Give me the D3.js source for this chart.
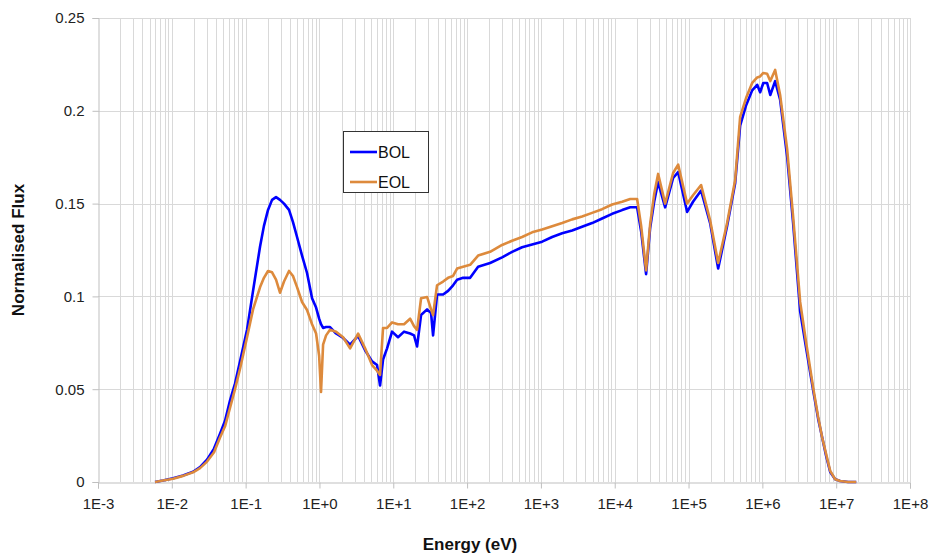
<!DOCTYPE html>
<html><head><meta charset="utf-8">
<script src="https://cdn.jsdelivr.net/npm/d3@7"></script>
<style>body{margin:0;background:#fff;}svg{display:block;font-family:"Liberation Sans",Arial,sans-serif;}</style>
</head><body>
<svg id="c" width="932" height="556"></svg>
<script>
const energy = [5.92e-3,7.6e-3,1.04e-2,1.42e-2,1.94e-2,2.41e-2,3.0e-2,3.73e-2,4.5e-2,5.26e-2,6.15e-2,7.18e-2,8.4e-2,0.1045,0.126,0.157,0.177,0.201,0.228,0.258,0.292,0.331,0.387,0.438,0.497,0.581,0.679,0.794,0.90,0.99,1.05,1.12,1.23,1.39,1.68,2.09,2.60,3.34,4.15,5.16,6.03,6.62,7.27,8.24,9.63,11.6,14.0,16.9,19.1,21.0,23.8,28.7,32.5,34.6,39.2,47.3,55.3,64.6,73.2,88.3,110,141,205,298,407,556,760,1040,1420,1940,2650,3610,4940,6740,9230,12600,16200,20100,22800,26600,30200,34200,38700,48200,61800,72300,95700,115000,148000,196000,252000,333000,428000,500000,603000,728000,851000,933000,1.03e6,1.16e6,1.28e6,1.49e6,1.74e6,2.17e6,2.61e6,3.25e6,3.92e6,4.87e6,5.70e6,6.46e6,7.31e6,8.30e6,9.69e6,1.13e7,1.45e7,1.87e7];
const bol = [0,0.0008,0.002,0.0035,0.0055,0.008,0.012,0.018,0.026,0.033,0.044,0.053,0.065,0.082,0.103,0.127,0.138,0.1466,0.152,0.1535,0.152,0.150,0.1466,0.140,0.132,0.122,0.1126,0.099,0.094,0.088,0.085,0.083,0.0835,0.0835,0.080,0.0776,0.074,0.0787,0.071,0.065,0.063,0.052,0.066,0.072,0.081,0.078,0.081,0.080,0.079,0.073,0.090,0.093,0.091,0.079,0.101,0.101,0.103,0.106,0.109,0.110,0.110,0.116,0.118,0.121,0.124,0.1265,0.128,0.1295,0.132,0.134,0.1355,0.1375,0.1395,0.142,0.1445,0.1465,0.148,0.148,0.135,0.112,0.137,0.151,0.1616,0.148,0.1638,0.167,0.1455,0.151,0.157,0.1395,0.115,0.138,0.161,0.192,0.203,0.211,0.214,0.210,0.215,0.215,0.2085,0.216,0.206,0.175,0.1395,0.092,0.072,0.0496,0.034,0.024,0.014,0.0054,0.0015,0.0005,0,0];
const eol = [0,0.0008,0.0018,0.0033,0.0052,0.0075,0.011,0.016,0.024,0.030,0.040,0.050,0.061,0.078,0.093,0.105,0.110,0.1137,0.113,0.109,0.102,0.108,0.1137,0.111,0.105,0.097,0.0927,0.085,0.080,0.068,0.0485,0.074,0.079,0.082,0.081,0.078,0.072,0.080,0.072,0.063,0.060,0.0577,0.083,0.083,0.086,0.085,0.085,0.088,0.084,0.082,0.099,0.0997,0.093,0.090,0.106,0.108,0.110,0.111,0.115,0.116,0.117,0.122,0.124,0.1277,0.130,0.132,0.1345,0.136,0.1378,0.1395,0.1415,0.143,0.145,0.147,0.1495,0.151,0.1525,0.1525,0.138,0.114,0.139,0.155,0.166,0.150,0.1665,0.171,0.150,0.1545,0.160,0.141,0.118,0.1395,0.1627,0.1967,0.207,0.215,0.218,0.2185,0.2204,0.220,0.216,0.222,0.2085,0.179,0.143,0.097,0.075,0.051,0.035,0.024,0.015,0.006,0.0015,0.0005,0,0];
const seriesNames = ["BOL","EOL"];
const seriesColors = ["#0000ff","#dd8a3c"];
const yTicks = [0,0.05,0.1,0.15,0.2,0.25];
const xTickExp = [-3,-2,-1,0,1,2,3,4,5,6,7,8];
const xTickLabels = ["1E-3","1E-2","1E-1","1E+0","1E+1","1E+2","1E+3","1E+4","1E+5","1E+6","1E+7","1E+8"];

const svg = d3.select("#c");
const L=98, R=910, T=18, B=482;
const x = d3.scaleLog().domain([1e-3,1e8]).range([L,R]);
const y = d3.scaleLinear().domain([0,0.25]).range([B,T]);
const grid = "#d9d9d9";

// minor vertical grid
const minors=[];
for(let e=-3;e<8;e++) for(let m=2;m<=9;m++) minors.push(m*Math.pow(10,e));
svg.append("g").selectAll("line").data(minors).join("line")
  .attr("x1",d=>Math.round(x(d))+0.5).attr("x2",d=>Math.round(x(d))+0.5)
  .attr("y1",T).attr("y2",B).attr("stroke",grid).attr("stroke-width",1);
// major vertical grid
svg.append("g").selectAll("line").data(xTickExp.slice(1)).join("line")
  .attr("x1",d=>Math.round(x(Math.pow(10,d)))+0.5).attr("x2",d=>Math.round(x(Math.pow(10,d)))+0.5)
  .attr("y1",T).attr("y2",B).attr("stroke",grid).attr("stroke-width",1);
// horizontal grid
svg.append("g").selectAll("line").data(yTicks.slice(1)).join("line")
  .attr("x1",L).attr("x2",R).attr("y1",d=>Math.round(y(d))+0.5).attr("y2",d=>Math.round(y(d))+0.5)
  .attr("stroke",grid).attr("stroke-width",1);

// axes
const yAxis = d3.axisLeft(y).tickValues(yTicks).tickSize(6).tickPadding(8).tickFormat(d=>d3.format("~g")(d));
const gy = svg.append("g").attr("transform",`translate(${L+0.5},0)`).call(yAxis);
gy.select(".domain").attr("stroke","#bfbfbf");
gy.selectAll(".tick line").attr("stroke","#bfbfbf");
gy.selectAll("text").attr("font-size",15).attr("fill","#222").attr("font-family","Liberation Sans, Arial, sans-serif");

const xAxis = d3.axisBottom(x).tickValues(xTickExp.map(e=>Math.pow(10,e))).tickSize(6).tickPadding(10)
  .tickFormat((d,i)=>xTickLabels[i]);
const gx = svg.append("g").attr("transform",`translate(0,${B+0.5})`).call(xAxis);
gx.select(".domain").attr("stroke","#bfbfbf");
gx.selectAll(".tick line").attr("stroke","#bfbfbf");
gx.selectAll("text").attr("font-size",15).attr("fill","#222").attr("font-family","Liberation Sans, Arial, sans-serif");

// lines
const line = vals => d3.line().x((d,i)=>x(energy[i])).y(d=>y(d))(vals);
[bol,eol].forEach((vals,k)=>{
  svg.append("path").attr("d",line(vals)).attr("fill","none")
    .attr("stroke",seriesColors[k]).attr("stroke-width",2.6).attr("stroke-linejoin","round");
});

// axis titles
svg.append("text").attr("x",470).attr("y",550).attr("text-anchor","middle")
  .attr("font-size",17).attr("font-weight","bold").attr("fill","#111").text("Energy (eV)");
svg.append("text").attr("transform","translate(24,250) rotate(-90)").attr("text-anchor","middle")
  .attr("font-size",17).attr("font-weight","bold").attr("fill","#111").text("Normalised Flux");

// legend
const lg = svg.append("g");
lg.append("rect").attr("x",343.5).attr("y",131.5).attr("width",85).attr("height",61)
  .attr("fill","#fff").attr("stroke","#333").attr("stroke-width",1);
seriesNames.forEach((n,k)=>{
  const yy = 152 + k*30;
  lg.append("line").attr("x1",350).attr("x2",377).attr("y1",yy).attr("y2",yy)
    .attr("stroke",seriesColors[k]).attr("stroke-width",2.6);
  lg.append("text").attr("x",378).attr("y",yy+6).attr("font-size",16).attr("fill","#111").text(n);
});
</script>
</body></html>
